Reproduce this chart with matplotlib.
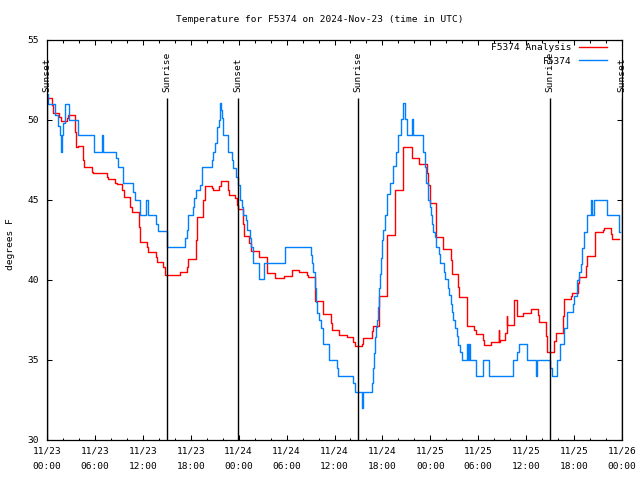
from datetime import datetime, timedelta
import matplotlib
matplotlib.use('Agg')
from matplotlib import pyplot as plt
import matplotlib.dates as mdates

plt.rcParams['font.family'] = ['DejaVu Sans Mono']
plt.rcParams['font.size'] = 6.8

# hours after 2024-11-23 00:00 UTC, value holds until the next point
obs_hours = [0.0, 0.15, 0.95, 1.4, 1.6, 1.8, 1.9, 2.05, 2.3, 2.7, 3.9, 5.9, 6.85, 7.0,
             8.7, 8.95, 9.5, 10.8, 11.0, 11.65, 12.4, 12.7, 13.7, 13.9, 15.06, 17.28,
             17.49, 17.7, 18.32, 18.45, 18.66, 19.16, 19.37, 19.45, 20.62, 20.83, 21.04,
             21.25, 21.33, 21.54, 21.62, 21.75, 21.87, 22.08, 22.7, 23.12, 23.33, 23.67,
             23.95, 24.17, 24.38, 24.58, 24.92, 25.08, 25.42, 25.5, 25.76, 25.84, 26.55,
             27.21, 29.8, 33.02, 33.22, 33.35, 33.56, 33.68, 33.85, 34.1, 34.27, 34.52,
             34.6, 35.35, 36.35, 36.48, 38.36, 38.57, 39.4, 39.55, 40.65, 40.86, 40.95,
             41.07, 41.2, 41.28, 41.4, 41.57, 41.7, 41.78, 41.9, 42.11, 42.32, 42.53,
             42.95, 43.37, 43.66, 43.99, 44.29, 44.62, 44.83, 45.12, 45.75, 45.85, 47.04,
             47.12, 47.33, 47.46, 47.75, 47.96, 48.04, 48.25, 48.37, 48.58, 48.71, 49.09,
             49.21, 49.71, 49.84, 50.25, 50.38, 50.55, 50.67, 50.88, 51.09, 51.3, 51.5,
             51.72, 51.93, 52.55, 52.7, 52.84, 52.95, 53.72, 54.55, 55.39, 58.39, 58.81,
             59.14, 60.15, 61.23, 61.32, 62.99, 63.2, 63.82, 64.24, 64.74, 65.07, 65.82,
             65.99, 66.33, 66.58, 66.83, 67.03, 67.28, 67.58, 68.12, 68.28, 68.53, 70.08,
             71.63, 71.75]
obs_temps = [51.6, 51.0, 50.3, 49.6, 49.06, 48.0, 49.06, 49.8, 51.0, 50.0, 49.06, 48.02, 49.06, 48.02,
             47.6, 47.04, 46.04, 45.5, 45.0, 44.04, 45.0, 44.04, 43.5, 43.04, 42.08, 42.6,
             43.1, 44.06, 44.58, 45.1, 45.6, 45.94, 46.56, 47.04, 47.5, 48.02, 48.54,
             49.0, 49.58, 50.0, 51.04, 50.6, 50.1, 49.06, 48.02, 47.5, 46.98, 46.46,
             45.94, 45.0, 44.58, 44.06, 43.75, 43.1, 42.6, 42.08, 41.67, 41.04, 40.04,
             41.04, 42.04, 41.56, 41.04, 40.52, 39.48, 38.65, 37.92, 37.5, 36.98, 36.5,
             35.98, 35.0, 34.48, 34.0, 33.54, 32.98, 31.98, 32.98, 33.54, 34.48, 35.42,
             36.46, 37.08, 37.5, 38.33, 39.48, 40.4, 41.35, 42.5, 43.1, 44.06, 45.4,
             46.04, 47.1, 48.02, 49.06, 50.04, 51.08, 50.04, 49.06, 50.04, 49.06, 48.5,
             48.02, 47.04, 46.04, 45.0, 44.58, 44.06, 43.5, 43.02, 42.7, 42.08, 41.6,
             41.04, 40.5, 40.04, 39.5, 39.06, 38.5, 38.02, 37.5, 36.98, 36.5, 35.96,
             35.5, 35.0, 36.0, 35.0, 36.0, 35.0, 34.0, 35.0, 34.0, 35.0, 35.5,
             35.98, 34.98, 33.98, 34.98, 34.5, 33.98, 34.98, 35.98, 36.98, 37.98, 38.5,
             38.98, 40.0, 40.5, 41.0, 42.0, 43.02, 44.06, 45.0, 44.06, 45.0, 44.06,
             43.02, 43.02]

ana_hours = [0.0, 0.58, 0.71, 1.54, 1.71, 2.46, 2.67, 3.5, 3.63, 3.92, 4.55, 4.67, 5.59, 5.72,
             7.47, 7.68, 8.51, 8.72, 9.43, 9.64, 10.39, 10.6, 11.52, 11.65, 12.56, 12.69,
             13.61, 13.74, 14.57, 14.78, 16.65, 17.57, 17.7, 18.62, 18.74, 19.57, 19.78,
             20.62, 20.74, 21.58, 21.79, 22.62, 22.79, 23.54, 23.75, 23.96, 24.5, 24.67,
             25.33, 25.5, 26.55, 27.59, 28.55, 29.7, 30.64, 31.6, 32.6, 32.7, 33.5, 33.6,
             34.52, 34.6, 35.5, 35.65, 36.6, 37.6, 38.36, 38.57, 39.4, 39.6, 40.65, 40.86,
             41.6, 42.6, 43.58, 44.62, 45.66, 46.62, 47.54, 47.75, 47.96, 48.67, 49.63,
             50.55, 50.75, 51.5, 51.63, 52.55, 52.63, 53.47, 53.68, 54.55, 54.72, 55.56,
             56.6, 56.66, 56.72, 57.35, 57.58, 57.65, 58.52, 58.89, 59.56, 60.57, 61.52,
             61.65, 62.48, 62.65, 63.52, 63.69, 64.57, 64.74, 65.57, 65.7, 66.53, 66.66,
             67.49, 67.66, 68.62, 69.58, 69.75, 70.59, 70.79, 71.63]
ana_temps = [51.35, 50.94, 50.42, 50.2, 49.94, 50.15, 50.31, 49.27, 48.29, 48.38, 47.5, 47.04, 46.77, 46.67,
             46.46, 46.29, 46.08, 45.98, 45.63, 45.2, 44.58, 44.27, 43.33, 42.35, 42.08, 41.73,
             41.46, 41.1, 40.83, 40.31, 40.52, 40.83, 41.29, 42.5, 43.96, 45.0, 45.9,
             45.73, 45.6, 45.9, 46.19, 45.63, 45.31, 45.1, 44.69, 44.44, 43.5, 42.77,
             42.3, 41.81, 41.46, 40.46, 40.1, 40.25, 40.63, 40.48, 40.3, 40.17, 39.5, 38.7,
             38.2, 37.85, 37.3, 36.9, 36.56, 36.46, 36.15, 35.9, 36.0, 36.4, 36.8, 37.15,
             39.0, 42.8, 45.63, 48.33, 47.6, 47.25, 46.67, 45.94, 44.79, 42.67, 41.92,
             41.25, 40.38, 39.58, 38.96, 38.13, 37.13, 36.88, 36.6, 36.25, 35.94, 36.1,
             36.88, 36.1, 36.25, 36.67, 37.75, 37.17, 38.75, 37.75, 37.92, 38.19, 37.8,
             37.35, 36.5, 35.52, 36.2, 36.67, 37.75, 38.79, 39.0, 39.21, 39.8, 40.21,
             40.9, 41.52, 42.98, 43.13, 43.27, 42.9, 42.54, 42.54]

event_hours = [0.0, 15.03, 23.92, 38.94, 62.98, 72.0]
event_names = ['Sunset', 'Sunrise', 'Sunset', 'Sunrise', 'Sunrise', 'Sunset']

t0 = datetime(2024, 11, 23)


def to_time(hours):
    return [t0 + timedelta(hours=h) for h in hours]


fig = plt.figure(figsize=(6.4, 4.8), dpi=100)
ax = fig.add_axes([47 / 640, 40 / 480, 575 / 640, 400 / 480])

ax.step(to_time(ana_hours), ana_temps, where='post', color='#ff0000', lw=1.0,
        label='F5374 Analysis')
ax.step(to_time(obs_hours), obs_temps, where='post', color='#0080ff', lw=1.0,
        label='F5374')

ax.vlines(to_time(event_hours), 30, 51.375, colors='k', lw=1.0)
for t, name in zip(to_time(event_hours), event_names):
    ax.text(t, 51.75, name, rotation=90, ha='center', va='bottom', clip_on=False)

ax.set_xlim(t0, t0 + timedelta(hours=72))
ax.set_ylim(30, 55)
ax.set_yticks([30, 35, 40, 45, 50, 55])
ax.xaxis.set_major_locator(mdates.HourLocator(byhour=[0, 6, 12, 18]))
ax.xaxis.set_minor_locator(mdates.HourLocator(byhour=range(0, 24, 2)))
ax.xaxis.set_major_formatter(mdates.DateFormatter('%m/%d\n%H:%M'))
ax.tick_params(which='both', direction='in', top=True, right=True, width=0.75)
ax.tick_params(which='major', length=3.6)
ax.tick_params(which='minor', length=1.8)
ax.tick_params(axis='x', pad=5)
ax.tick_params(axis='y', pad=5.8)
for s in ax.spines.values():
    s.set_linewidth(0.9)

ax.set_ylabel('degrees F')
ax.yaxis.set_label_coords(-0.056, 0.49)
fig.text(0.5, 0.96, 'Temperature for F5374 on 2024-Nov-23 (time in UTC)',
         ha='center', va='center')

ax.legend(loc='upper right', bbox_to_anchor=((610 - 47) / 575, 1.0), frameon=False,
          markerfirst=False, handlelength=3.0, handletextpad=0.8, borderaxespad=0,
          borderpad=0.3, labelspacing=0.5)

fig.canvas.draw()
for lab in ax.get_xticklabels():
    lab.set_linespacing(1.85)

fig.savefig('out.png', dpi=100)
